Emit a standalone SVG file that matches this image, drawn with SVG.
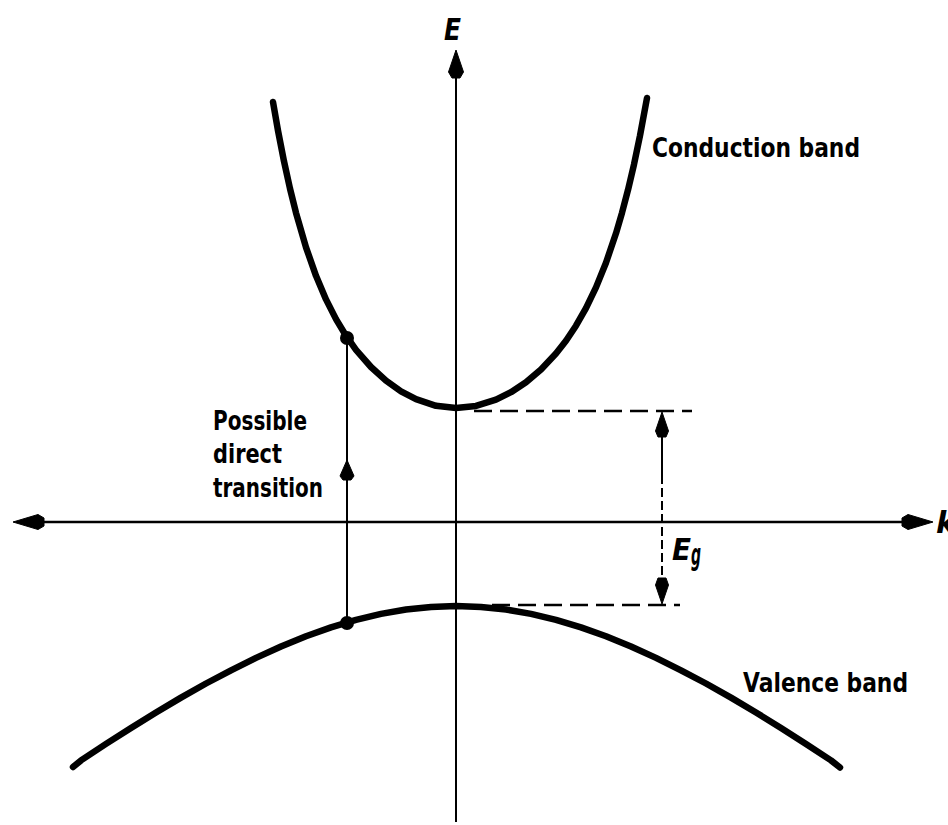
<svg xmlns="http://www.w3.org/2000/svg" width="948" height="825" viewBox="0 0 948 825">
<style>
.band{fill:none;stroke:#000;stroke-width:6.5;stroke-linecap:round;stroke-linejoin:round}
.axis{fill:none;stroke:#000;stroke-width:2.5}
.thin{fill:none;stroke:#000;stroke-width:2}
.dash{fill:none;stroke:#000;stroke-width:2.5;stroke-dasharray:18 8}
.head{fill:#000;stroke:#000;stroke-width:1;stroke-linejoin:round}
.lbl{font-family:"DejaVu Sans","Liberation Sans",sans-serif;font-weight:bold;font-size:27px;fill:#000}
.sym{font-family:"DejaVu Sans","Liberation Sans",sans-serif;font-weight:bold;font-style:italic;font-size:30px;fill:#000}
</style>
<rect width="948" height="825" fill="#fff"/>
<g id="connectors">
  <g id="k-axis">
    <line class="axis" x1="40" y1="522" x2="906" y2="522"/>
    <path class="head" d="M933,522 L908,514.5 L902,518 L902,526 L908,529.5 Z"/>
    <path class="head" d="M13,522 L38,514.5 L44,518 L44,526 L38,529.5 Z"/>
  </g>
  <g id="E-axis">
    <line class="thin" x1="456" y1="74" x2="456" y2="822"/>
    <path class="head" d="M456,50 L463.5,72 L460,78 L452,78 L448.5,72 Z"/>
  </g>
  <g id="transition">
    <line class="thin" x1="347" y1="338" x2="347" y2="623"/>
    <path class="head" d="M347,460 L354,476 L351,480 L343,480 L340,476 Z"/>
    <circle cx="347" cy="338" r="7"/>
    <circle cx="347" cy="623" r="7"/>
  </g>
  <g id="gap">
    <line class="dash" x1="474" y1="411" x2="692" y2="411"/>
    <line class="dash" x1="492" y1="605" x2="680" y2="605"/>
    <line class="thin" x1="662" y1="434" x2="662" y2="475"/>
    <line class="thin" x1="662" y1="475" x2="662" y2="580" stroke-dasharray="9 4"/>
    <path class="head" d="M662,412 L668.5,431 L666,437 L658,437 L655.5,431 Z"/>
    <path class="head" d="M662,604 L668.5,585 L666,578 L658,578 L655.5,585 Z"/>
  </g>
</g>
<g id="conduction-band">
  <path class="band" d="M273,102 L278,130.6 L284,161.3 L290,188.6 L296,212.8 L306,247.3 L316,275.8 L326,299.4 L336,319.1 L346,335.7 L356,349.8 L371,367 L386,380.7 L401,391.3 L416,399.2 L436,405.8 L456,408 L476,405.9 L496,399.7 L511,392.2 L526,382.2 L541,369.5 L556,353.5 L566,340.7 L576,325.7 L586,308.1 L596,287.4 L606,262.7 L616,233.3 L622,212.8 L628,189.9 L634,164.4 L640,135.7 L647,98"/>
  <text class="lbl" x="652" y="157" textLength="208" lengthAdjust="spacingAndGlyphs">Conduction band</text>
</g>
<g id="valence-band">
  <path class="band" d="M73,767 L81,760.4 L106,743.9 L131,727.9 L156,712.5 L181,697.6 L206,683.5 L231,670.3 L256,657.9 L281,646.5 L306,636.3 L331,627.4 L356,619.9 L381,613.9 L406,609.5 L431,606.9 L456,606 L481,606.9 L506,609.5 L531,613.9 L556,619.9 L581,627.4 L606,636.3 L631,646.5 L656,657.9 L681,670.3 L706,683.5 L731,697.6 L756,712.5 L781,727.9 L806,743.9 L831,760.4 L840,767.5"/>
  <text class="lbl" x="743" y="692" textLength="165" lengthAdjust="spacingAndGlyphs">Valence band</text>
</g>
<g id="transition-label">
  <text class="lbl" x="213" y="430" textLength="94" lengthAdjust="spacingAndGlyphs">Possible</text>
  <text class="lbl" x="213" y="463" textLength="69" lengthAdjust="spacingAndGlyphs">direct</text>
  <text class="lbl" x="213" y="497" textLength="110" lengthAdjust="spacingAndGlyphs">transition</text>
</g>
<g id="labels">
  <text class="sym" x="444" y="40" textLength="17" lengthAdjust="spacingAndGlyphs">E</text>
  <text class="sym" x="672" y="560" textLength="19" lengthAdjust="spacingAndGlyphs">E</text>
  <text class="sym" x="691" y="565" font-size="17" textLength="10" lengthAdjust="spacingAndGlyphs">g</text>
  <text class="sym" x="936" y="533">k</text>
</g>
</svg>
